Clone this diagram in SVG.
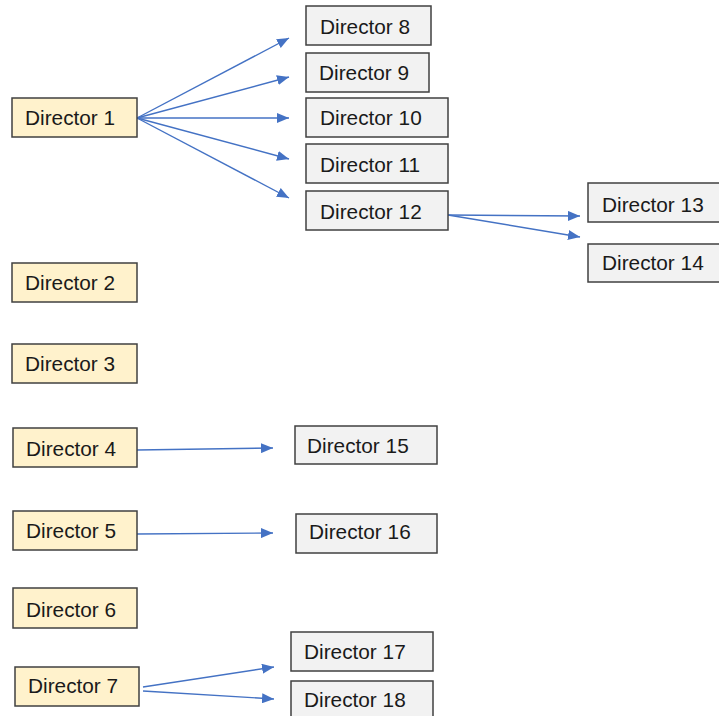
<svg xmlns="http://www.w3.org/2000/svg" width="719" height="716" viewBox="0 0 719 716">
<style>
.y{fill:#FFF2CC;stroke:#404040;stroke-width:1.5}
.g{fill:#F2F2F2;stroke:#404040;stroke-width:1.5}
text{font-family:"Liberation Sans",Arial,sans-serif;font-size:20.8px;fill:#1a1a1a}
.c line{stroke:#4472C4;stroke-width:1.4;marker-end:url(#ah)}
</style>
<defs>
<marker id="ah" markerUnits="userSpaceOnUse" markerWidth="12" markerHeight="10" viewBox="0 0 12 10" refX="12" refY="5" orient="auto">
<path d="M0,0 L12,5 L0,10 Z" fill="#4472C4"/>
</marker>
</defs>
<rect width="719" height="716" fill="#ffffff"/>
<g class="c">
<line x1="137" y1="118" x2="289" y2="38"/>
<line x1="137" y1="118" x2="289" y2="77"/>
<line x1="137" y1="118" x2="289" y2="118"/>
<line x1="137" y1="118" x2="289" y2="159"/>
<line x1="137" y1="118" x2="289" y2="198"/>
<line x1="448" y1="215" x2="580" y2="216"/>
<line x1="448" y1="215" x2="580" y2="237"/>
<line x1="137" y1="450" x2="273" y2="448"/>
<line x1="137" y1="534" x2="273" y2="533"/>
<line x1="143" y1="687" x2="274" y2="667"/>
<line x1="143" y1="691" x2="274" y2="699"/>
</g>
<g id="d1"><rect class="y" x="12" y="98" width="125" height="39"/><text x="25" y="125">Director 1</text></g>
<g id="d2"><rect class="y" x="12" y="263" width="125" height="39"/><text x="25" y="290">Director 2</text></g>
<g id="d3"><rect class="y" x="12" y="344" width="125" height="39"/><text x="25" y="371">Director 3</text></g>
<g id="d4"><rect class="y" x="13" y="428" width="124" height="39"/><text x="26" y="456">Director 4</text></g>
<g id="d5"><rect class="y" x="13" y="511" width="124" height="39"/><text x="26" y="538">Director 5</text></g>
<g id="d6"><rect class="y" x="13" y="588" width="124" height="40"/><text x="26" y="617">Director 6</text></g>
<g id="d7"><rect class="y" x="15" y="667" width="124" height="39"/><text x="28" y="693">Director 7</text></g>
<g id="d8"><rect class="g" x="306" y="6" width="125" height="39"/><text x="320" y="34">Director 8</text></g>
<g id="d9"><rect class="g" x="306" y="53" width="123" height="39"/><text x="319" y="80">Director 9</text></g>
<g id="d10"><rect class="g" x="306" y="98" width="142" height="39"/><text x="320" y="125">Director 10</text></g>
<g id="d11"><rect class="g" x="306" y="144" width="142" height="39"/><text x="320" y="171.5">Director 11</text></g>
<g id="d12"><rect class="g" x="306" y="191" width="142" height="39"/><text x="320" y="219">Director 12</text></g>
<g id="d13"><rect class="g" x="588" y="183" width="135" height="39"/><text x="602" y="211.5">Director 13</text></g>
<g id="d14"><rect class="g" x="588" y="244" width="135" height="38"/><text x="602" y="270">Director 14</text></g>
<g id="d15"><rect class="g" x="295" y="426" width="142" height="38"/><text x="307" y="452.5">Director 15</text></g>
<g id="d16"><rect class="g" x="296" y="514" width="141" height="39"/><text x="309" y="539">Director 16</text></g>
<g id="d17"><rect class="g" x="291" y="632" width="142" height="39"/><text x="304" y="659">Director 17</text></g>
<g id="d18"><rect class="g" x="291" y="681" width="142" height="39"/><text x="304" y="706.5">Director 18</text></g>
</svg>
